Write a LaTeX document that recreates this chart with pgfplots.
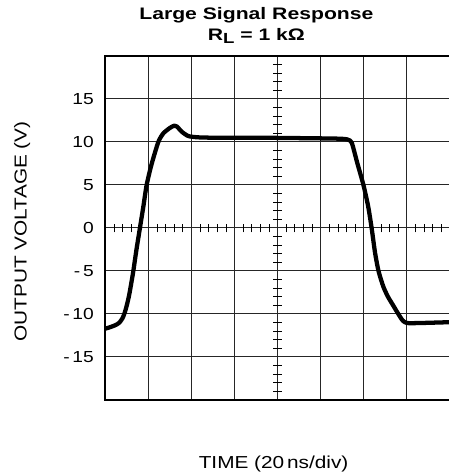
\documentclass[border=0pt]{standalone}
\usepackage{fontspec}
\usepackage{pgfplots}
\pgfplotsset{compat=1.18}
\setmainfont{Liberation Sans}
\newfontfamily\titlefont{Liberation Sans}[FakeStretch=1.27]
\newfontfamily\labelfont{Liberation Sans}[FakeStretch=1.2]
\begin{document}
\begin{tikzpicture}
\begin{axis}[
  scale only axis, width=258.4pt, height=258pt,
  xmin=0, xmax=8, ymin=-20, ymax=20,
  xtick={1,2,3,4,5,6,7}, xticklabels={},
  ytick={-15,-10,-5,0,5,10,15},
  yticklabels={-\,15,-\,10,-\,5,0,5,10,15},
  grid=major,
  major grid style={black!85, line width=0.75pt},
  major tick length=0pt,
  axis line style={line width=1.5pt},
  yticklabel style={font=\labelfont\fontsize{12}{12}\selectfont, inner sep=0pt, anchor=east, xshift=-8.6pt},
  xlabel={TIME (20\,ns/div)},
  xlabel style={font=\labelfont\fontsize{13}{13}\selectfont, at={(axis description cs:0.488,0)}, anchor=base, yshift=-51pt, inner sep=0pt},
  ylabel={OUTPUT VOLTAGE (V)},
  ylabel style={font=\labelfont\fontsize{13}{13}\selectfont, at={([xshift=-59.1pt]axis description cs:0,0.49)}, anchor=base, inner sep=0pt},
  title={Large Signal Response\\R\raisebox{-2.25pt}{\fontsize{11}{11}\selectfont L} = 1 kΩ},
  title style={font=\titlefont\bfseries\fontsize{12.5}{16}\selectfont, align=center, at={(axis description cs:0.438,1)}, anchor=south, yshift=2.8pt, inner sep=0pt},
]
\pgfplotsinvokeforeach{0.2,0.4,0.6,0.8,1.2,1.4,1.6,1.8,2.2,2.4,2.6,2.8,3.2,3.4,3.6,3.8,4.2,4.4,4.6,4.8,5.2,5.4,5.6,5.8,6.2,6.4,6.6,6.8,7.2,7.4,7.6,7.8}{
  \draw[line width=0.75pt] ([yshift=-3.3pt]axis cs:#1,0) -- ([yshift=3.3pt]axis cs:#1,0);
}
\pgfplotsinvokeforeach{-19,-18,-17,-16,-14,-13,-12,-11,-9,-8,-7,-6,-4,-3,-2,-1,1,2,3,4,6,7,8,9,11,12,13,14,16,17,18,19}{
  \draw[line width=0.75pt] ([xshift=-3.5pt]axis cs:4,#1) -- ([xshift=3.5pt]axis cs:4,#1);
}
\addplot[line width=3.2pt, smooth, tension=0.4, line join=round] coordinates {
(0,-11.7) (0.1,-11.55) (0.18,-11.4) (0.27,-11.2) (0.34,-10.9) (0.40,-10.45)
(0.45,-9.8) (0.50,-8.9) (0.55,-7.8) (0.60,-6.4) (0.65,-4.9) (0.72,-2.5)
(0.80,0) (0.88,2.5) (0.956,5.0) (1.07,7.4) (1.227,10.0) (1.343,11.0)
(1.50,11.65) (1.60,11.9) (1.66,11.8) (1.77,11.2) (1.92,10.7) (2.12,10.55)
(2.5,10.5) (3.5,10.5) (4.5,10.45) (5.3,10.4) (5.55,10.35) (5.64,10.25)
(5.72,9.9) (5.85,7.5) (5.99,5.0) (6.10,2.5) (6.18,0) (6.26,-2.9)
(6.34,-5.0) (6.45,-6.8) (6.56,-8.0) (6.68,-9.0) (6.80,-10.0) (6.90,-10.75) (7.0,-11.05)
(7.3,-11.05) (8.0,-10.95)
};
\end{axis}
\pgfresetboundingbox
\path[use as bounding box] ([xshift=-79.1pt,yshift=-56.25pt]current axis.south west) rectangle ([xshift=-1.5pt,yshift=42pt]current axis.north east);
\end{tikzpicture}
\end{document}
